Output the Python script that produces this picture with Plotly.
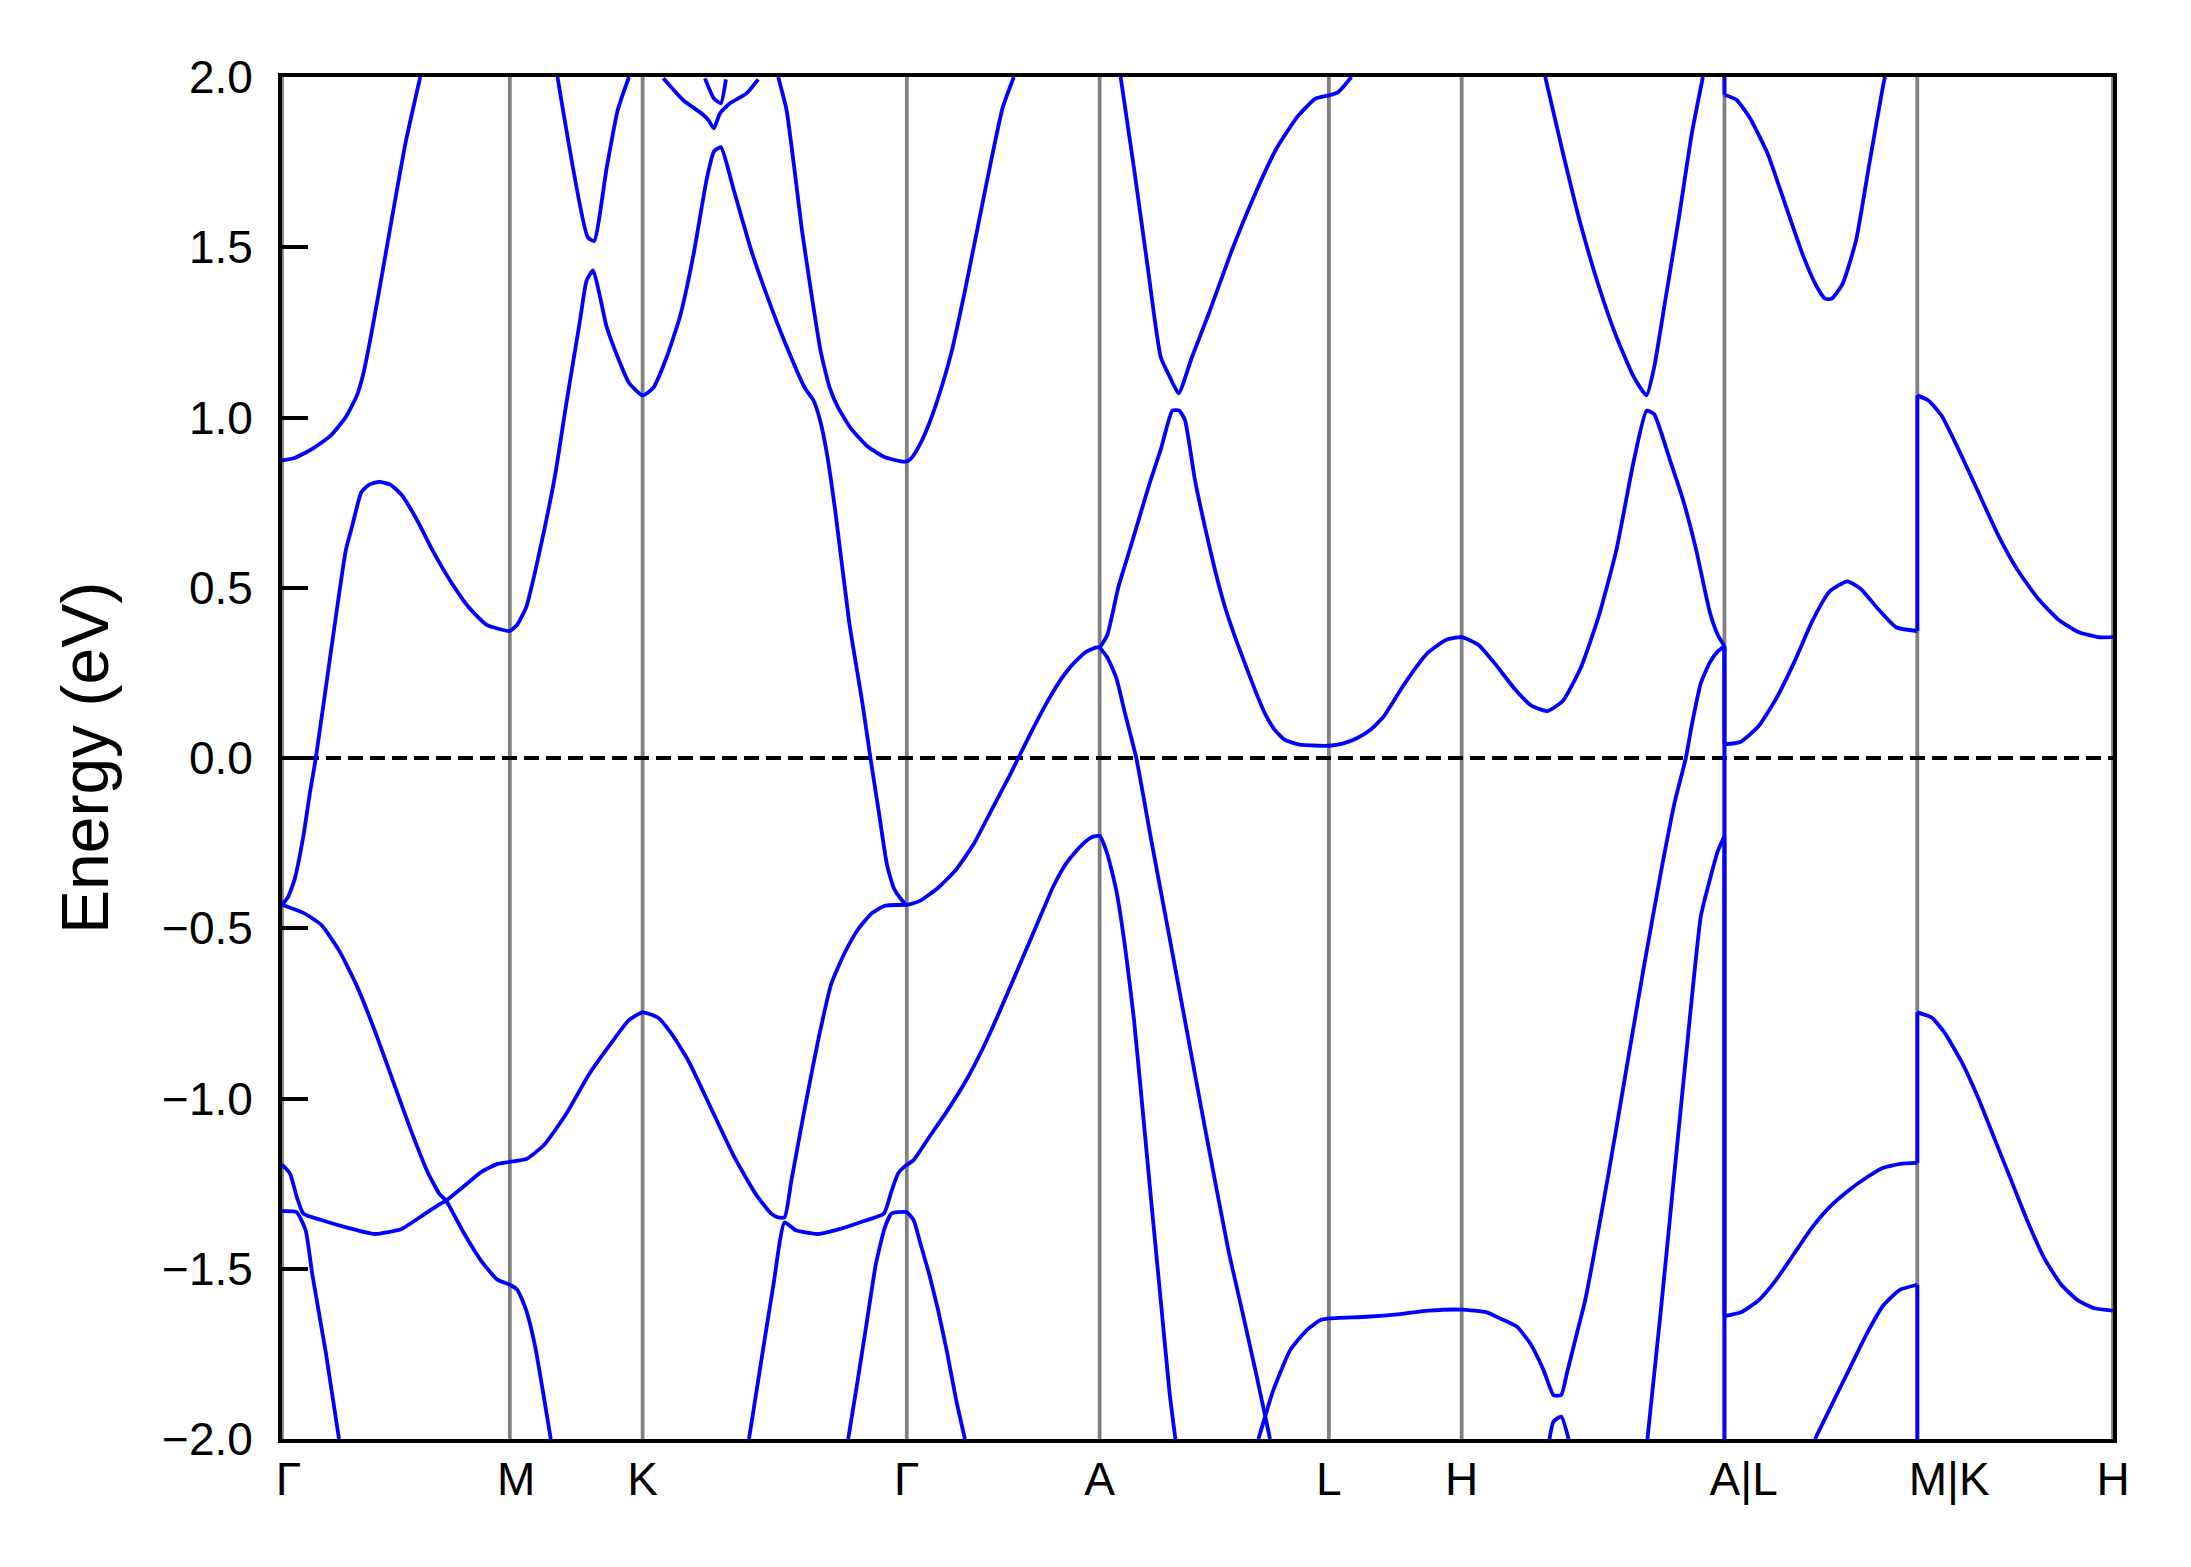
import plotly.graph_objects as go

# ---- high-symmetry path (k-path distance, arbitrary units) ----
kpoint_labels = ["Γ", "M", "K", "Γ", "A", "L", "H", "A|L", "M|K", "H"]
kpoint_pos = [0, 163, 258, 447, 585, 749, 844, 1032, 1170, 1310]
energy_ticks = [-2.0, -1.5, -1.0, -0.5, 0.0, 0.5, 1.0, 1.5, 2.0]
energy_ticktext = ["\u22122.0", "\u22121.5", "\u22121.0", "\u22120.5", "0.0", "0.5", "1.0", "1.5", "2.0"]
e_min, e_max = -2.0, 2.0
fermi_level = 0.0

# ---- bands (k, E in eV) ----
b1_k = [0, 4.1, 8.9, 15.3, 20.1, 24.2, 34.4, 45.6, 50.4, 56.8, 62.5, 69.5, 77.5, 85.5, 96.6, 107.8, 120.6, 133.3, 146.1, 163,
        168.4, 174.8, 181.2, 187.6, 195.5, 203.5, 213.1, 217.9, 222.6, 227.4, 232.2, 240.2, 248.2, 258,
        265.6, 275.2, 284.8, 294.3, 303.9, 309, 314, 323, 335.7, 348.4, 361.2, 373.9, 380.3, 385.1, 389.9, 396.2, 405.8, 415.3, 421, 426.5, 432.8, 437.6, 442.4, 447,
        456.7, 469.5, 482.2, 495, 507.7, 520.4, 526.8, 536.3, 545.9, 555.5, 565, 574.6, 582.5, 585,
        590.5, 598.5, 606.4, 614.4, 621, 629, 637, 642, 646, 653.2, 660.3, 667.5, 674.6, 681.8, 688.9, 696.1, 703.2, 710.4, 717.6, 727.1, 741.5, 749,
        759.4, 769, 778.5, 788, 801, 812, 820, 833, 844,
        856.1, 868.8, 881.5, 894.2, 905.3, 916.5, 929.2, 941.9, 954.6, 967.4, 976.3, 981.7, 992.8, 1002.4, 1011.9, 1021.5, 1027.2, 1032,
        1032, 1043.7, 1056.4, 1069.1, 1081.8, 1094.5, 1107.2, 1119.9, 1129.4, 1142.1, 1154.8, 1170,
        1170, 1177.9, 1187.4, 1199.3, 1213.6, 1227.9, 1242.2, 1256.6, 1270.9, 1285.1, 1299.4, 1310]
b1_e = [-0.431, -0.41, -0.358, -0.229, -0.099, 0.0, 0.295, 0.609, 0.684, 0.781, 0.803, 0.811, 0.803, 0.773, 0.699, 0.609, 0.519, 0.444, 0.392, 0.373,
        0.392, 0.444, 0.549, 0.669, 0.833, 1.043, 1.282, 1.402, 1.432, 1.357, 1.267, 1.177, 1.102, 1.065,
        1.087, 1.177, 1.297, 1.476, 1.701, 1.781, 1.794, 1.671, 1.491, 1.342, 1.207, 1.088, 1.050, 0.990, 0.893, 0.714, 0.399, 0.16, 0.0, -0.145, -0.313, -0.381, -0.412, -0.431,
        -0.419, -0.381, -0.328, -0.252, -0.152, -0.053, 0.0, 0.078, 0.153, 0.22, 0.272, 0.31, 0.325, 0.325,
        0.362, 0.504, 0.61, 0.72, 0.81, 0.91, 1.02, 1.02, 0.993, 0.816, 0.679, 0.552, 0.444, 0.356, 0.278, 0.200, 0.131, 0.082, 0.053, 0.040, 0.036, 0.036,
        0.043, 0.058, 0.082, 0.121, 0.205, 0.27, 0.31, 0.347, 0.355,
        0.332, 0.272, 0.205, 0.153, 0.138, 0.168, 0.265, 0.414, 0.609, 0.878, 1.020, 1.010, 0.878, 0.758, 0.609, 0.429, 0.362, 0.328,
        0.040, 0.048, 0.093, 0.175, 0.280, 0.399, 0.489, 0.519, 0.497, 0.437, 0.384, 0.373,
        1.065, 1.050, 1.005, 0.908, 0.781, 0.654, 0.549, 0.467, 0.407, 0.370, 0.355, 0.355]

b2_k = [0, 8.9, 21.7, 34.4, 45.6, 53.6, 58.4, 63.2, 69.5, 79.1, 88.7, 98.9]
b2_e = [0.874, 0.881, 0.908, 0.945, 1.001, 1.065, 1.132, 1.230, 1.372, 1.596, 1.813, 2.0]

b3_k = [197.1, 218.8, 223.3, 232.2, 240.2, 248.2]
b3_e = [2.0, 1.529, 1.518, 1.731, 1.903, 2.0]

b4_k = [272.8, 287, 300.2, 305, 309, 313.3, 320.5, 332.4, 340.7]
b4_e = [1.996, 1.932, 1.893, 1.874, 1.849, 1.893, 1.923, 1.952, 1.993]

b5_k = [302.6, 309, 314, 317.6]
b5_e = [1.996, 1.937, 1.923, 1.993]

b6_k = [355, 361, 367, 372, 379, 385.5, 391.8, 398, 407, 419, 431.5, 442, 447,
        450.4, 456.7, 463.1, 469.5, 479, 488.6, 498.1, 507.7, 515.6, 523.6]
b6_e = [2.0, 1.903, 1.717, 1.55, 1.357, 1.192, 1.088, 1.028, 0.968, 0.915, 0.883, 0.872, 0.871,
        0.881, 0.923, 0.983, 1.058, 1.192, 1.372, 1.566, 1.761, 1.910, 2.0]

b7_k = [600, 609.6, 619.2, 628.7, 635.1, 641.5, 651, 663.7, 679.6, 695.5, 711.5, 726.8, 739.6, 749, 755.5, 765.1]
b7_e = [2.0, 1.731, 1.447, 1.177, 1.12, 1.071, 1.177, 1.312, 1.491, 1.65, 1.79, 1.885, 1.937, 1.946, 1.955, 2.0]

b8_k = [0, 15.3, 28.1, 40.8, 53.6, 66.3, 79.1, 91.9, 104.6, 112.6, 117.4, 130.1, 142.9, 154.1, 163, 168.4, 174.8, 181.2, 187.6, 192.3]
b8_e = [-0.431, -0.455, -0.49, -0.565, -0.67, -0.80, -0.945, -1.09, -1.22, -1.28, -1.30, -1.395, -1.479, -1.532, -1.547, -1.562, -1.623, -1.730, -1.883, -2.0]

b9_k = [0, 5.7, 10.5, 15.3, 28.1, 47.2, 66.3, 85.5, 101.4, 112.6, 117.4, 130.1, 142.9, 154.1, 163,
        174.8, 187.6, 203.5, 219.5, 235.4, 248.2, 258, 268.8, 278.4, 291.1, 307, 322.9, 338.8, 350, 354.8,
        359.6, 364.4, 374, 383.5, 393, 402.6, 412.2, 421.7, 431.3, 447]
b9_e = [-1.194, -1.220, -1.288, -1.338, -1.357, -1.380, -1.398, -1.383, -1.341, -1.311, -1.300, -1.258, -1.215, -1.192, -1.186,
        -1.178, -1.136, -1.044, -0.930, -0.838, -0.770, -0.747, -0.762, -0.808, -0.892, -1.029, -1.166, -1.280, -1.338, -1.349,
        -1.349, -1.242, -1.029, -0.831, -0.663, -0.572, -0.503, -0.457, -0.434, -0.431]

b10_k = [0, 10.5, 16.9, 21.7, 31.3, 40.8]
b10_e = [-1.331, -1.334, -1.387, -1.517, -1.745, -2.0]

b11_k = [334.1, 342.1, 351.6, 359.6, 367.6, 383.5, 399.4, 415.3, 430.6, 436, 440.8, 446.2, 451.9, 463.1, 475.8,
         488.6, 501.3, 514, 526.8, 539.5, 552.3, 561.8, 571.4, 579.3, 585, 590.5, 596.9, 603.2, 609.6, 616,
         622.3, 628.7, 635.1, 639.2]
b11_e = [-2.0, -1.791, -1.547, -1.364, -1.387, -1.398, -1.383, -1.361, -1.338, -1.273, -1.220, -1.197, -1.181, -1.113, -1.037,
         -0.953, -0.854, -0.739, -0.617, -0.495, -0.373, -0.305, -0.259, -0.233, -0.229, -0.282, -0.389, -0.556, -0.770, -1.044,
         -1.319, -1.593, -1.867, -2.0]

b12_k = [405.1, 412.1, 418.5, 424.9, 431.2, 436, 440.8, 447, 451.9, 456.7, 463.1, 469.5, 475.8, 482.2, 488.6]
b12_e = [-2.0, -1.822, -1.654, -1.486, -1.380, -1.338, -1.334, -1.334, -1.357, -1.425, -1.517, -1.623, -1.745, -1.883, -2.0]

b13_k = [585, 590.5, 596.9, 603.2, 611.2, 622.3, 635.1, 647.8, 660.5, 677.1, 687.9, 697.4, 706.9]
b13_e = [0.325, 0.295, 0.235, 0.13, 0.0, -0.25, -0.53, -0.81, -1.09, -1.445, -1.641, -1.817, -2.0]

b14_k = [698.6, 709.3, 721.3, 733.2, 742.7, 749, 776.2, 800, 820.3, 844, 862, 871.6, 883.5, 893, 902.5,
         909.7, 915.2, 919.3, 926.4, 932.4, 948.8, 961.5, 974.2, 986.9, 996.4, 1004.4, 1008.8, 1015.1, 1021.5, 1027.2,
         1032, 1032]
b14_e = [-2.0, -1.856, -1.739, -1.680, -1.651, -1.646, -1.641, -1.633, -1.623, -1.620, -1.628, -1.646, -1.670, -1.719, -1.797,
         -1.871, -1.871, -1.807, -1.690, -1.592, -1.227, -0.922, -0.617, -0.328, -0.130, 0.0, 0.100, 0.220, 0.280, 0.313,
         0.328, -2.0]

b15_k = [906.8, 909.7, 915.2, 920.5]
b15_e = [-2.0, -1.949, -1.934, -2.0]

b16_k = [976.9, 986.5, 996, 1005.6, 1015.1, 1021.5, 1027.2, 1032, 1032, 1043.7, 1056.4, 1069.1, 1081.8, 1094.5, 1107.2,
         1119.9, 1132.6, 1145.3, 1158, 1170, 1170, 1180.2, 1189.7, 1201.6, 1213.5, 1225.4, 1237.3, 1249.2, 1261.1, 1273,
         1284.9, 1296.8, 1310]
b16_e = [-2.0, -1.623, -1.227, -0.831, -0.465, -0.358, -0.274, -0.229, -1.639, -1.628, -1.593, -1.532, -1.456, -1.380, -1.319,
         -1.273, -1.235, -1.204, -1.192, -1.189, -0.747, -0.762, -0.808, -0.892, -0.998, -1.120, -1.242, -1.364, -1.471, -1.547,
         -1.593, -1.616, -1.623]

b17_k = [903.8, 916.5, 929.2, 942, 954.7, 967.4, 976.3, 981.7, 989.6, 999.2, 1008.7, 1016.6]
b17_e = [2.0, 1.776, 1.566, 1.387, 1.237, 1.117, 1.065, 1.147, 1.342, 1.581, 1.835, 2.0]

b18_k = [1032, 1032, 1040.6, 1050.1, 1062.8, 1075.5, 1088.2, 1097.7, 1104, 1108.8, 1116.7, 1126.2, 1135.7, 1145.3, 1146.8]
b18_e = [2.0, 1.948, 1.933, 1.880, 1.776, 1.626, 1.476, 1.387, 1.349, 1.349, 1.394, 1.521, 1.746, 1.970, 2.0]

b19_k = [1096.8, 1109.9, 1121.8, 1133.7, 1145.6, 1157.5, 1170, 1170]
b19_e = [-2.0, -1.890, -1.791, -1.692, -1.608, -1.562, -1.547, -2.0]

bands = [(b1_k, b1_e), (b2_k, b2_e), (b3_k, b3_e), (b4_k, b4_e), (b5_k, b5_e), (b6_k, b6_e),
         (b7_k, b7_e), (b8_k, b8_e), (b9_k, b9_e), (b10_k, b10_e), (b11_k, b11_e), (b12_k, b12_e),
         (b13_k, b13_e), (b14_k, b14_e), (b15_k, b15_e), (b16_k, b16_e), (b17_k, b17_e), (b18_k, b18_e),
         (b19_k, b19_e)]

FONT = "Liberation Sans, Arial, Helvetica, sans-serif"
LW = 3.8
BLUE = "#0000ff"
# leading non-breaking spaces nudge some labels right, as in the original
label_pad = [1, 1, 0, 0, 0, 0, 0, 3, 5, 0]
tick_text = ["\u00a0" * p + lab for p, lab in zip(label_pad, kpoint_labels)]

fig = go.Figure()


def add_band(kk, ee):
    """Draw one band; smooth pieces as splines, jumps at path breaks as straight lines."""
    start = 0
    n = len(kk)
    for i in range(1, n):
        if kk[i] == kk[i - 1]:
            if i - 1 > start:
                fig.add_trace(go.Scatter(x=kk[start:i], y=ee[start:i], mode="lines",
                                         line=dict(color=BLUE, width=LW, shape="spline", smoothing=0.5),
                                         hoverinfo="skip", showlegend=False))
            fig.add_trace(go.Scatter(x=kk[i - 1:i + 1], y=ee[i - 1:i + 1], mode="lines",
                                     line=dict(color=BLUE, width=LW),
                                     hoverinfo="skip", showlegend=False))
            start = i
    if n - 1 > start:
        fig.add_trace(go.Scatter(x=kk[start:], y=ee[start:], mode="lines",
                                 line=dict(color=BLUE, width=LW, shape="spline", smoothing=0.5),
                                 hoverinfo="skip", showlegend=False))


for kk, ee in bands:
    add_band(kk, ee)

shapes = []
for kp in kpoint_pos:
    shapes.append(dict(type="line", xref="x", yref="y", x0=kp, x1=kp, y0=e_min, y1=e_max,
                       line=dict(color="#808080", width=LW), layer="below"))
shapes.append(dict(type="line", xref="x", yref="y", x0=kpoint_pos[0], x1=kpoint_pos[-1],
                   y0=fermi_level, y1=fermi_level,
                   line=dict(color="black", width=LW, dash="15px,7px"), layer="below"))

# page body has an 8px default margin, so the figure is 8px smaller and margins compensate
fig.update_layout(
    width=2183, height=1559,
    margin=dict(l=274, r=78, t=69, b=128, pad=0),
    paper_bgcolor="white", plot_bgcolor="white",
    shapes=shapes,
    showlegend=False,
    font=dict(family=FONT, color="black"),
    annotations=[dict(text="Energy (eV)", xref="paper", yref="paper",
                      x=(77 - 274) / 1831, y=0.5, xanchor="center", yanchor="middle",
                      textangle=-90, showarrow=False,
                      font=dict(family=FONT, size=66, color="black"))],
)

fig.update_xaxes(range=[kpoint_pos[0], kpoint_pos[-1]],
                 tickvals=kpoint_pos, ticktext=tick_text,
                 ticks="", showgrid=False, zeroline=False,
                 showline=True, linecolor="black", linewidth=LW, mirror=True,
                 tickfont=dict(family=FONT, size=46, color="black"),
                 ticklabelstandoff=-3)

fig.update_yaxes(range=[e_min, e_max],
                 tickvals=energy_ticks, ticktext=energy_ticktext,
                 ticks="inside", ticklen=26, tickwidth=LW, tickcolor="black",
                 showgrid=False, zeroline=False,
                 showline=True, linecolor="black", linewidth=LW, mirror=True,
                 tickfont=dict(family=FONT, size=46, color="black"),
                 ticklabelstandoff=16)

fig.write_html("out.html")
